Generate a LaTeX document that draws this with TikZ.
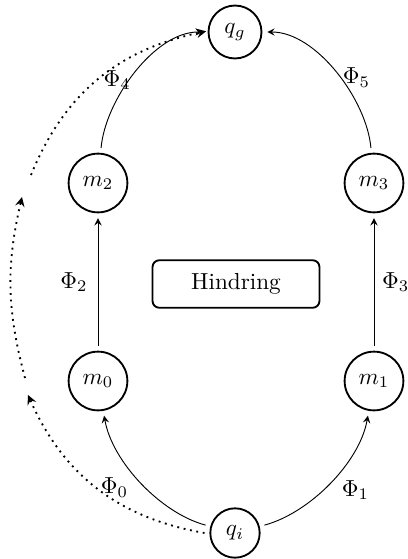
\documentclass[tikz,border=0pt]{standalone}
\usetikzlibrary{arrows}
\begin{document}
\begin{tikzpicture}[x=0.431pt, y=-0.431pt,
  state/.style={circle, draw, thick, inner sep=4pt, outer sep=2.5pt},
  region/.style={draw, thick, rounded corners=3pt, minimum width=72pt, minimum height=20.5pt},
  flow/.style={-stealth},
  skip/.style={-stealth, thick, dotted}]
  \useasboundingbox (0,0) rectangle (408,559);

  % states
  \node[state] (qg) at (235,32)  {$q_g$};
  \node[state] (m2) at (98,183)  {$m_2$};
  \node[state] (m3) at (374,183) {$m_3$};
  \node[state] (m0) at (98,381)  {$m_0$};
  \node[state] (m1) at (374,381) {$m_1$};
  \node[state] (qi) at (235,533) {$q_i$};
  \node[region] (h) at (236,284) {Hindring};

  % transitions
  \draw[flow] (qi) to[out=165, in=-80, looseness=0.8]
    node[left=3pt, xshift=1pt, yshift=-2pt] {$\Phi_0$} (m0);
  \draw[flow] (qi) to[out=15, in=-100, looseness=0.8]
    node[right=3pt, xshift=-1.5pt, yshift=-3pt] {$\Phi_1$} (m1);
  \draw[flow] (m0) -- node[left=1pt]  {$\Phi_2$} (m2);
  \draw[flow] (m1) -- node[right] {$\Phi_3$} (m3);
  \draw[flow] (m2) to[out=85, in=180, looseness=0.8]
    node[left=2.5pt, xshift=4pt, yshift=-3.5pt] {$\Phi_4$} (qg);
  \draw[flow] (m3) to[out=95, in=0, looseness=0.8]
    node[right=2.5pt, xshift=-3pt, yshift=-2.5pt] {$\Phi_5$} (qg);

  % dotted detour on the left
  \coordinate (a) at (28,395);
  \coordinate (b) at (25,378);
  \coordinate (c) at (22,197);
  \coordinate (d) at (31,175);
  \draw[skip] (qi.west) to[bend left=28] (a);
  \draw[skip] (b) to[bend left=14] (c);
  \draw[skip, shorten >=-1.5pt] (d) to[bend left=28] (qg.west);
\end{tikzpicture}
\end{document}
